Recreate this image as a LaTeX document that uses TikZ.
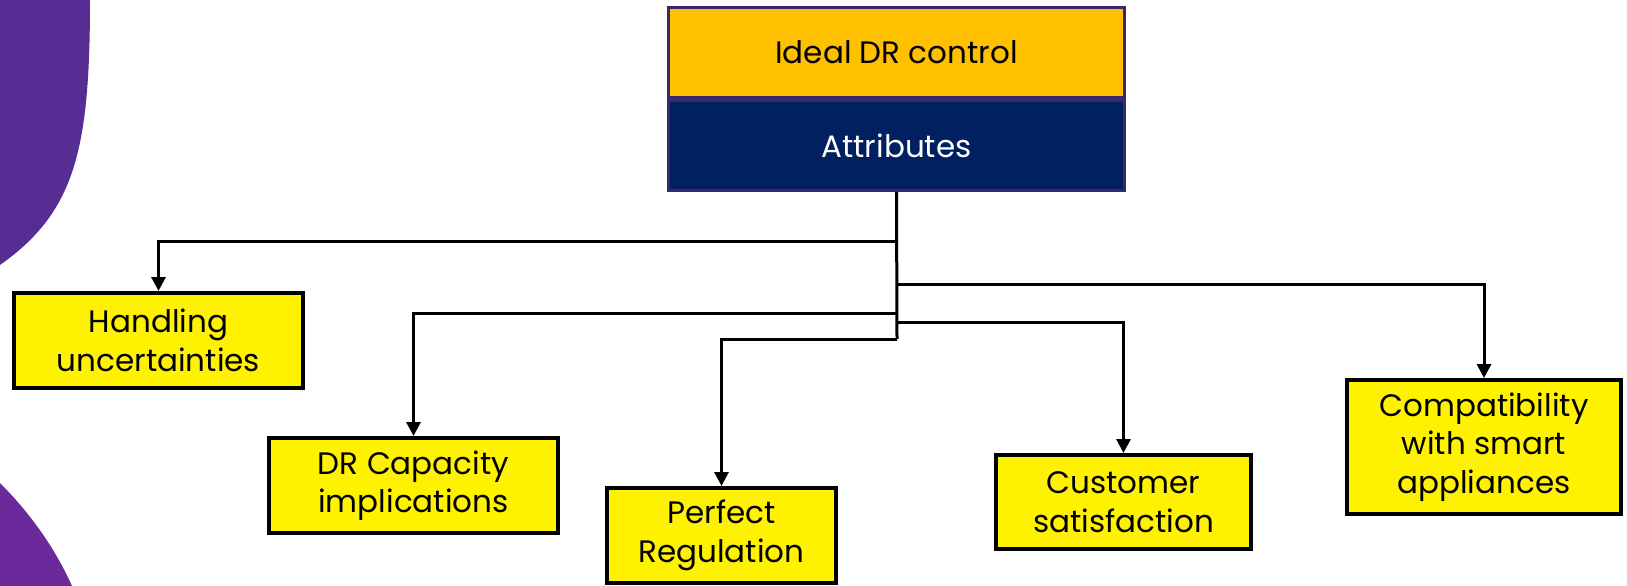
\documentclass[tikz,border=0pt]{standalone}
\usepackage{fontspec}
\setmainfont{Poppins}
\usetikzlibrary{arrows.meta}
\definecolor{gold}{RGB}{255,192,0}
\definecolor{navy}{RGB}{0,32,96}
\definecolor{frame}{RGB}{58,40,110}
\definecolor{purpA}{RGB}{86,45,146}
\definecolor{purpB}{RGB}{106,42,156}
\begin{document}
\begin{tikzpicture}[x=1pt,y=-1pt,
  txt/.style={font=\fontsize{31}{38.5}\selectfont, align=center, inner sep=0pt},
  headbox/.style={txt, draw=frame, line width=3pt, minimum width=456pt, minimum height=90pt},
  attrbox/.style={txt, draw=black, fill=yellow, line width=4pt, minimum height=95pt},
  link/.style={line width=3pt, line cap=rect},
  arr/.style={link, line cap=butt, -{Triangle[length=14pt,width=14pt]}}
]
\useasboundingbox (0,0) rectangle (1627,586);

% decorative purple shapes on the left edge
\fill[purpA] (0,0) -- (90,0) .. controls (90,150) and (75,212) .. (0,265) -- cycle;
\fill[purpB] (0,483) .. controls (30,513) and (55,548) .. (72,586) -- (0,586) -- cycle;

% header
\node[headbox, fill=gold, text=black] (ideal) at (896.5,52.5) {Ideal DR control};
\node[headbox, fill=navy, text=white] (attr) at (896.5,145.5) {Attributes};

% attribute boxes
\node[attrbox, minimum width=289pt] (hand) at (158.5,340.5) {Handling\\uncertainties};
\node[attrbox, minimum width=289pt] (cap) at (413.5,485.5) {DR Capacity\\implications};
\node[attrbox, minimum width=229pt] (perf) at (721.5,535.5) {Perfect\\Regulation};
\node[attrbox, minimum width=255pt, minimum height=94pt] (cust) at (1123.5,502) {Customer\\satisfaction};
\node[attrbox, minimum width=274pt, minimum height=134pt] (comp) at (1484,447) {Compatibility\\with smart\\appliances};

% trunk and branch points
\coordinate (jh) at (897,241);
\coordinate (js) at (897,284);
\coordinate (jd) at (897,313);
\coordinate (jc) at (897,322);
\coordinate (jp) at (897,339);
\draw[link, line cap=butt] (attr.south) -- (jp);

% branches
\draw[arr] (jh) -| (hand.north);
\draw[arr] (js) -| (comp.north);
\draw[arr] (jd) -| (cap.north);
\draw[arr] (jc) -| (cust.north);
\draw[arr] (jp) -| (perf.north);
\end{tikzpicture}
\end{document}
